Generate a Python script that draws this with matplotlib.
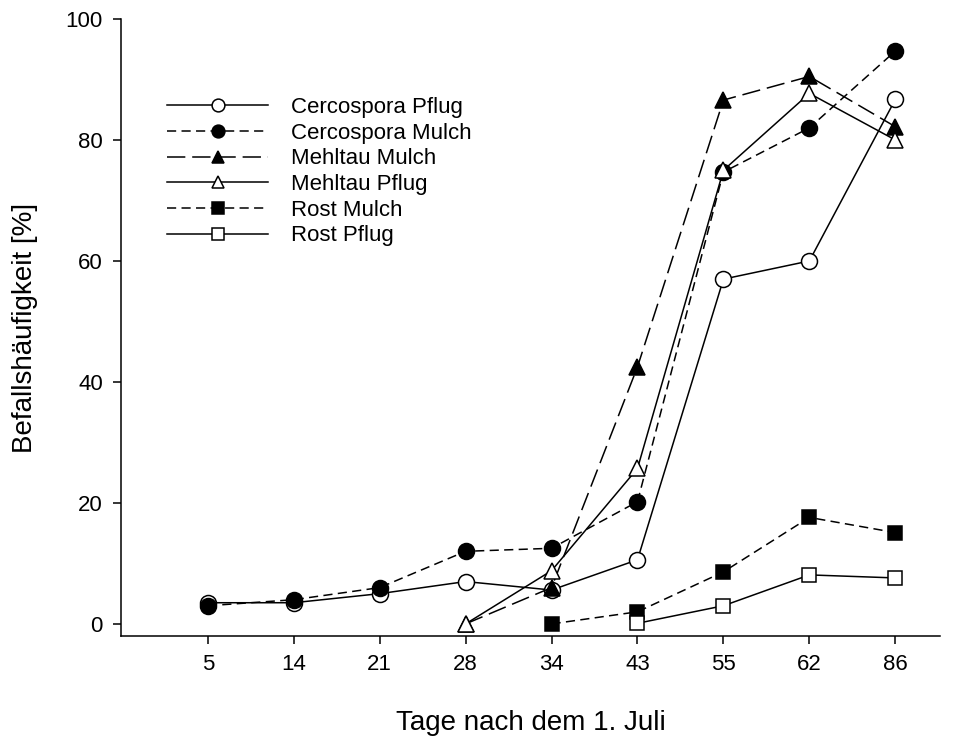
import matplotlib
matplotlib.use("Agg")
import matplotlib.pyplot as plt
import numpy as np

plt.rcParams['font.family'] = ['Liberation Sans', 'DejaVu Sans']

days = ["5", "14", "21", "28", "34", "43", "55", "62", "86"]

cerco_pflug = [3.5, 3.5, 5.0, 7.0, 5.6, 10.6, 57.0, 60.0, 86.7]
cerco_mulch = [3.0, 4.0, 6.0, 12.0, 12.5, 20.2, 74.7, 82.0, 94.7]
mehltau_mulch = [None, None, None, 0.0, 6.0, 42.5, 86.6, 90.5, 82.2]
mehltau_pflug = [None, None, None, 0.0, 8.8, 25.7, 75.0, 87.7, 80.0]
rost_mulch = [None, None, None, None, 0.0, 2.0, 8.6, 17.6, 15.1]
rost_pflug = [None, None, None, None, None, 0.1, 3.0, 8.1, 7.6]

fig = plt.figure(figsize=(9.73, 7.4), dpi=100)
ax = fig.add_axes([121/973, 1-636/740, (940-121)/973, (636-19)/740])

x = np.arange(len(days))

def plot_series(vals, marker, filled, ls, label, ms=11.5):
    xs = [xi for xi, v in zip(x, vals) if v is not None]
    ys = [v for v in vals if v is not None]
    ax.plot(xs, ys, color='black', lw=1.1, linestyle=ls, marker=marker,
            markersize=ms, markerfacecolor='black' if filled else 'white',
            markeredgecolor='black', markeredgewidth=1.1, label=label)

short_dash = (0, (6, 3.5))
long_dash = (0, (12, 4.5))

plot_series(cerco_pflug, 'o', False, '-', 'Cercospora Pflug')
plot_series(cerco_mulch, 'o', True, short_dash, 'Cercospora Mulch')
plot_series(mehltau_mulch, '^', True, long_dash, 'Mehltau Mulch', ms=11)
plot_series(mehltau_pflug, '^', False, '-', 'Mehltau Pflug', ms=11)
plot_series(rost_mulch, 's', True, short_dash, 'Rost Mulch', ms=10)
plot_series(rost_pflug, 's', False, '-', 'Rost Pflug', ms=10)

ax.set_xlim(-1.01, 8.52)
ax.set_ylim(-2, 100)
ax.set_xticks(x)
ax.set_xticklabels(days)
ax.set_yticks([0, 20, 40, 60, 80, 100])
ax.spines['top'].set_visible(False)
ax.spines['right'].set_visible(False)
ax.spines['left'].set_linewidth(1.1)
ax.spines['bottom'].set_linewidth(1.1)
ax.tick_params(direction='out', length=5.5, width=1.1, labelsize=16, pad=7.5)

ax.set_xlabel("Tage nach dem 1. Juli", fontsize=20, labelpad=25)
ax.set_ylabel("Befallshäufigkeit [%]", fontsize=20, labelpad=20)

leg = ax.legend(loc='upper left', bbox_to_anchor=((167-121)/819, 1-(97-19)/617),
                frameon=False, fontsize=16, handlelength=4.55, handletextpad=1.05,
                labelspacing=0.21, borderpad=0, borderaxespad=0, markerscale=0.8)

fig.savefig("out.png", dpi=100)
